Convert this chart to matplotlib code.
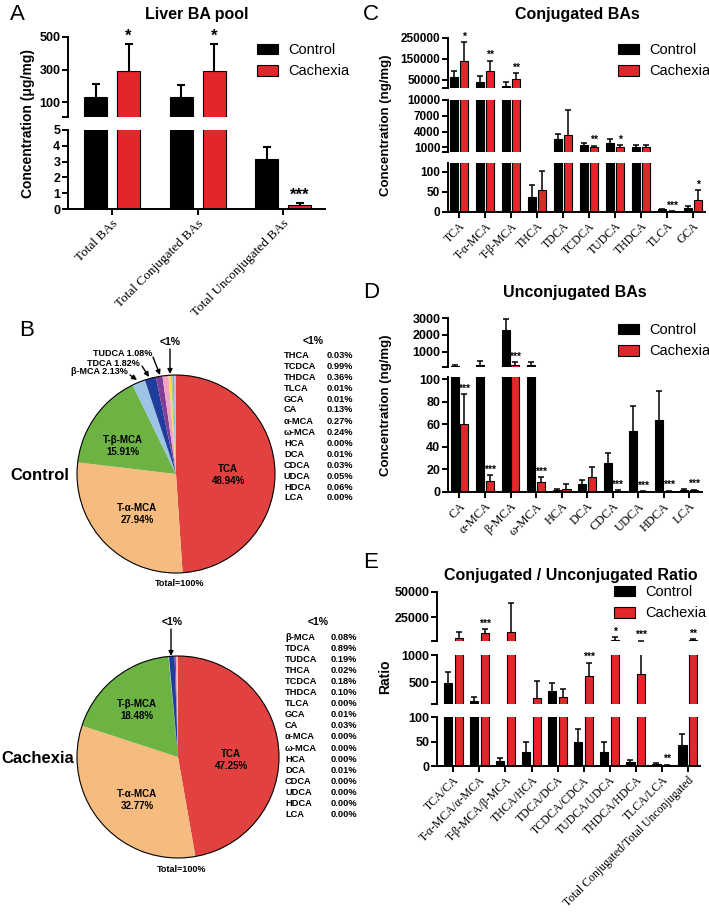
import matplotlib.pyplot as plt
import numpy as np

W, H = 709, 922
RED = '#e3262a'
SANS = 'Liberation Sans'
SERIF = 'Liberation Serif'
plt.rcParams['font.family'] = [SANS, 'DejaVu Sans']

# ---------------- data ----------------
# A: liver BA pool (ug/mg), mean and top of error bar
a_cats = ['Total BAs', 'Total Conjugated BAs', 'Total Unconjugated BAs']
a_ctrl = [132, 129, 3.15]
a_ctrl_hi = [209, 203, 3.94]
a_cach = [293, 293, 0.28]
a_cach_hi = [457, 457, 0.37]
a_stars = ['*', '*', '***']

# C: conjugated BAs (ng/mg)
c_cats = ['TCA', 'T-α-MCA', 'T-β-MCA', 'THCA', 'TDCA', 'TCDCA', 'TUDCA', 'THDCA', 'TLCA', 'GCA']
c_ctrl = [61000, 40000, 21000, 38, 2500, 1450, 1770, 1140, 6.7, 11]
c_ctrl_hi = [93000, 69000, 40000, 68, 3480, 1890, 2530, 1450, 8.5, 16]
c_cach = [139600, 93000, 53000, 55, 3350, 1000, 1000, 1140, 2, 29]
c_cach_hi = [229000, 141000, 83000, 102, 8100, 1310, 1450, 1450, 3, 55]
c_stars = ['*', '**', '**', '', '', '**', '*', '', '***', '*']

# D: unconjugated BAs (ng/mg)
d_cats = ['CA', 'α-MCA', 'β-MCA', 'ω-MCA', 'HCA', 'DCA', 'CDCA', 'UDCA', 'HDCA', 'LCA']
d_ctrl = [150, 236, 2310, 236, 1.5, 7, 26, 54, 64, 2]
d_ctrl_hi = [190, 430, 2940, 420, 2.5, 11, 35, 76, 90, 2.6]
d_cach = [60, 10, 200, 9, 3, 13, 1, 0.5, 0.8, 1.5]
d_cach_hi = [87, 15, 400, 13, 7, 22, 1.5, 1, 1.3, 2]
d_stars = ['***', '***', '***', '***', '', '', '***', '***', '***', '***']

# E: conjugated / unconjugated ratio
e_cats = ['TCA/CA', 'T-α-MCA/α-MCA', 'T-β-MCA/β-MCA', 'THCA/HCA', 'TDCA/DCA', 'TCDCA/CDCA',
          'TUDCA/UDCA', 'THDCA/HDCA', 'TLCA/LCA', 'Total Conjugated/Total Unconjugated']
e_ctrl = [480, 160, 10, 28, 340, 48, 28, 8, 5, 42]
e_ctrl_hi = [680, 235, 17, 48, 490, 76, 48, 13, 7, 65]
e_cach = [3700, 9300, 9700, 205, 220, 620, 2000, 650, 2, 1800]
e_cach_hi = [9700, 12700, 39300, 528, 370, 860, 5000, 1300, 3, 3000]
e_stars = ['', '***', '', '', '', '***', '*', '***', '**', '**']

# B: pie composition (%)
pie_names = ['TCA', 'T-α-MCA', 'T-β-MCA', 'β-MCA', 'TDCA', 'TUDCA', 'TCDCA', 'THDCA',
             'α-MCA', 'ω-MCA', 'CA', 'HDCA', 'UDCA', 'THCA', 'CDCA', 'TLCA', 'GCA', 'DCA', 'HCA', 'LCA']
pie_colors = ['#e1413f', '#f5bb7f', '#6cb344', '#9dc3e6', '#1f3d9a', '#7f3f98', '#f2a3c4', '#f3e33a',
              '#a9d18e', '#5fb8d8', '#c9a0dc', '#ffd966', '#8faadc', '#f4b183', '#70ad47', '#bdd7ee',
              '#c55a11', '#7030a0', '#ed7d31', '#a5a5a5']
ctrl_pct = [48.94, 27.94, 15.91, 2.13, 1.82, 1.08, 0.99, 0.36, 0.27, 0.24, 0.13, 0.06, 0.05,
            0.03, 0.03, 0.01, 0.01, 0.01, 0.00, 0.00]
cach_pct = [47.25, 32.77, 18.48, 0.08, 0.89, 0.19, 0.18, 0.10, 0.00, 0.00, 0.03, 0.00, 0.00,
            0.02, 0.00, 0.00, 0.01, 0.01, 0.00, 0.00]
ctrl_small = ['THCA', 'TCDCA', 'THDCA', 'TLCA', 'GCA', 'CA', 'α-MCA', 'ω-MCA', 'HCA', 'DCA',
              'CDCA', 'UDCA', 'HDCA', 'LCA']
cach_small = ['β-MCA', 'TDCA', 'TUDCA', 'THCA', 'TCDCA', 'THDCA', 'TLCA', 'GCA', 'CA', 'α-MCA',
              'ω-MCA', 'HCA', 'DCA', 'CDCA', 'UDCA', 'HDCA', 'LCA']

fig = plt.figure(figsize=(W / 100, H / 100), dpi=100)


def fp(x, y):
    return (x / W, 1 - y / H)


def px_axes(x0, y0, x1, y1):
    return fig.add_axes([x0 / W, 1 - y1 / H, (x1 - x0) / W, (y1 - y0) / H])


def ftext(x, y, s, **kw):
    fig.text(x / W, 1 - y / H, s, **kw)


def bar_panel(x0, x1, segs, xlim, cats, ctrl, ctrl_hi, cach, cach_hi, stars, width, off,
              ytick_fs, xlab_fs, star_fs, cap, lw, leg_xy):
    x = np.arange(len(cats))
    groups = [(x - off, np.array(ctrl, float), np.array(ctrl_hi, float), 'black', 'Control'),
              (x + off, np.array(cach, float), np.array(cach_hi, float), RED, 'Cachexia')]
    axes = []
    for i, (yt, yb, lo, hi, ticks) in enumerate(segs):
        last = i == len(segs) - 1
        ax = px_axes(x0, yt, x1, yb)
        for xs, val, top, col, lab in groups:
            m = val > lo
            ax.bar(xs[m], val[m], width, color=col, edgecolor='black', linewidth=0.8, label=lab)
            mt = top > lo
            ax.vlines(xs[mt], val[mt], top[mt], color='black', linewidth=lw)
            mc = (top > lo) & (top <= hi)
            ax.plot(xs[mc], top[mc], ls='none', marker='_', ms=cap, mew=lw, color='black')
        ax.set_xlim(*xlim)
        ax.set_ylim(lo, hi)
        ax.spines['top'].set_visible(False)
        ax.spines['right'].set_visible(False)
        ax.spines['left'].set_linewidth(1.4)
        tv = list(ticks)
        tl = [f'{t:g}' for t in ticks]
        if not last and lo not in ticks:
            tv.append(lo)
            tl.append('')
        ax.set_yticks(tv)
        ax.set_yticklabels(tl, fontsize=ytick_fs, fontweight='bold')
        ax.tick_params(axis='y', direction='out', length=4, width=1.4, pad=1.5)
        if last:
            ax.spines['bottom'].set_linewidth(1.4)
            ax.set_xticks(x)
            ax.set_xticklabels(cats, rotation=45, ha='right', va='top', rotation_mode='anchor',
                               fontfamily=SERIF, fontsize=xlab_fs)
            ax.tick_params(axis='x', direction='out', length=4, width=1.4, pad=2)
        else:
            ax.spines['bottom'].set_visible(False)
            ax.tick_params(axis='x', bottom=False, labelbottom=False)
        axes.append(ax)
    for i, s in enumerate(stars):
        if not s:
            continue
        top = groups[1][2][i]
        for ax, seg in zip(axes, segs):
            if seg[2] <= top < seg[3]:
                ax.annotate(s, (x[i] + off, top), xytext=(0, 0.3), textcoords='offset points',
                            ha='center', va='bottom', fontsize=star_fs, fontweight='bold')
                break
    h, l = axes[-1].get_legend_handles_labels()
    axes[-1].legend(h, l, loc='upper left', bbox_to_anchor=fp(*leg_xy), bbox_transform=fig.transFigure,
                    frameon=False, fontsize=10.5, handlelength=1.45, handleheight=0.75,
                    handletextpad=0.7, labelspacing=0.5, borderpad=0, borderaxespad=0)
    return axes


# ---------------- panel A ----------------
bar_panel(68, 325,
          [(37, 117, 8, 500, [100, 300, 500]), (130, 209, 0, 5, [0, 1, 2, 3, 4, 5])],
          (-0.515, 2.49), a_cats, a_ctrl, a_ctrl_hi, a_cach, a_cach_hi, a_stars,
          0.27, 0.193, 9, 9.5, 12, 6, 1.5, (257, 43))
ftext(10, 15, 'A', fontsize=16, va='center', ha='left')
ftext(197, 14, 'Liver BA pool', fontsize=11.5, fontweight='bold', ha='center', va='center')
ftext(28, 123, 'Concentration (μg/mg)', fontsize=10, fontweight='bold', rotation=90,
      ha='center', va='center')

# ---------------- panel C ----------------
bar_panel(448, 705,
          [(38, 88, 10000, 250000, [50000, 150000, 250000]),
           (100, 152, 120, 10000, [1000, 4000, 7000, 10000]),
           (163, 212, 0, 122, [0, 50, 100])],
          (-0.43, 9.47), c_cats, c_ctrl, c_ctrl_hi, c_cach, c_cach_hi, c_stars,
          0.32, 0.19, 8.5, 8.5, 7.5, 4, 1.1, (618, 43))
ftext(363, 15, 'C', fontsize=16, va='center', ha='left')
ftext(577, 14, 'Conjugated BAs', fontsize=11.5, fontweight='bold', ha='center', va='center')
ftext(386, 125, 'Concentration (ng/mg)', fontsize=9.5, fontweight='bold', rotation=90,
      ha='center', va='center')

# ---------------- panel D ----------------
bar_panel(448, 702,
          [(318, 367, 100, 3000, [1000, 2000, 3000]),
           (377, 492, 0, 102, [0, 20, 40, 60, 80, 100])],
          (-0.45, 9.5), d_cats, d_ctrl, d_ctrl_hi, d_cach, d_cach_hi, d_stars,
          0.32, 0.19, 9, 9, 7.5, 4, 1.1, (618, 323))
ftext(363, 293, 'D', fontsize=16, va='center', ha='left')
ftext(575, 293, 'Unconjugated BAs', fontsize=11.5, fontweight='bold', ha='center', va='center')
ftext(386, 405, 'Concentration (ng/mg)', fontsize=9.5, fontweight='bold', rotation=90,
      ha='center', va='center')

# ---------------- panel E ----------------
bar_panel(437, 700,
          [(592, 641, 1000, 50000, [25000, 50000]),
           (655, 704, 100, 1000, [500, 1000]),
           (717, 766, 0, 100, [0, 50, 100])],
          (-0.63, 9.47), e_cats, e_ctrl, e_ctrl_hi, e_cach, e_cach_hi, e_stars,
          0.32, 0.204, 9, 8.5, 7.5, 4, 1.1, (614, 585))
ftext(363, 562, 'E', fontsize=16, va='center', ha='left')
ftext(571, 575, 'Conjugated / Unconjugated Ratio', fontsize=11.5, fontweight='bold',
      ha='center', va='center')
ftext(385, 677, 'Ratio', fontsize=10, fontweight='bold', rotation=90, ha='center', va='center')


# ---------------- panel B ----------------
def pie_at(cx, cy, r, pct):
    pad = 1.02
    ax = px_axes(cx - r * pad, cy - r * pad, cx + r * pad, cy + r * pad)
    ax.pie(pct, colors=pie_colors, startangle=90, counterclock=False, radius=1,
           wedgeprops=dict(linewidth=0))
    ax.pie([1], radius=1, colors=['none'],
           wedgeprops=dict(fill=False, edgecolor='black', linewidth=0.8))
    ax.set_xlim(-pad, pad)
    ax.set_ylim(-pad, pad)
    return ax


def arrow(x0, y0, x1, y1):
    fig.add_artist(plt.Annotation('', xy=fp(x1, y1), xytext=fp(x0, y0),
                                  xycoords='figure fraction', textcoords='figure fraction',
                                  arrowprops=dict(arrowstyle='-|>', color='black', lw=1.0,
                                                  mutation_scale=7, shrinkA=0, shrinkB=0)))


ftext(27, 330, 'B', fontsize=16, va='center', ha='center')

pie_at(176, 474, 99, ctrl_pct)
ftext(10, 475, 'Control', fontsize=12, fontweight='bold', va='center', ha='left')
ftext(228, 475, f'TCA\n{ctrl_pct[0]:.2f}%', fontsize=7, fontweight='bold', ha='center', va='center')
ftext(137, 514, f'T-α-MCA\n{ctrl_pct[1]:.2f}%', fontsize=7, fontweight='bold', ha='center', va='center')
ftext(123, 446, f'T-β-MCA\n{ctrl_pct[2]:.2f}%', fontsize=7, fontweight='bold', ha='center', va='center')
ftext(152, 353, f'TUDCA {ctrl_pct[5]:.2f}%', fontsize=6.5, fontweight='bold', ha='right', va='center')
ftext(140, 363, f'TDCA {ctrl_pct[4]:.2f}%', fontsize=6.5, fontweight='bold', ha='right', va='center')
ftext(128, 372, f'β-MCA {ctrl_pct[3]:.2f}%', fontsize=6.5, fontweight='bold', ha='right', va='center')
arrow(153, 357, 160, 375)
arrow(142, 366, 149, 377)
arrow(130, 375, 137, 380)
ftext(170, 342, '<1%', fontsize=7.5, fontweight='bold', ha='center', va='center')
arrow(170, 349, 170, 374)
ftext(180, 583, 'Total=100%', fontsize=6.5, fontweight='bold', ha='center', va='center')
ftext(313, 341, '<1%', fontsize=7.5, fontweight='bold', ha='center', va='center')
for i, n in enumerate(ctrl_small):
    ftext(284, 355 + 11 * i, n, fontsize=6.7, fontweight='bold', ha='left', va='center')
    ftext(353, 355 + 11 * i, f'{ctrl_pct[pie_names.index(n)]:.2f}%', fontsize=6.7,
          fontweight='bold', ha='right', va='center')

pie_at(178, 757, 101, cach_pct)
ftext(1, 758, 'Cachexia', fontsize=12, fontweight='bold', va='center', ha='left')
ftext(231, 760, f'TCA\n{cach_pct[0]:.2f}%', fontsize=7, fontweight='bold', ha='center', va='center')
ftext(137, 800, f'T-α-MCA\n{cach_pct[1]:.2f}%', fontsize=7, fontweight='bold', ha='center', va='center')
ftext(137, 710, f'T-β-MCA\n{cach_pct[2]:.2f}%', fontsize=7, fontweight='bold', ha='center', va='center')
ftext(172, 622, '<1%', fontsize=7.5, fontweight='bold', ha='center', va='center')
arrow(171, 629, 171, 656)
ftext(182, 869, 'Total=100%', fontsize=6.5, fontweight='bold', ha='center', va='center')
ftext(318, 622, '<1%', fontsize=7.5, fontweight='bold', ha='center', va='center')
for i, n in enumerate(cach_small):
    ftext(285, 637 + 11.1 * i, n, fontsize=6.7, fontweight='bold', ha='left', va='center')
    ftext(357, 637 + 11.1 * i, f'{cach_pct[pie_names.index(n)]:.2f}%', fontsize=6.7,
          fontweight='bold', ha='right', va='center')

fig.savefig('out.png', dpi=100)
